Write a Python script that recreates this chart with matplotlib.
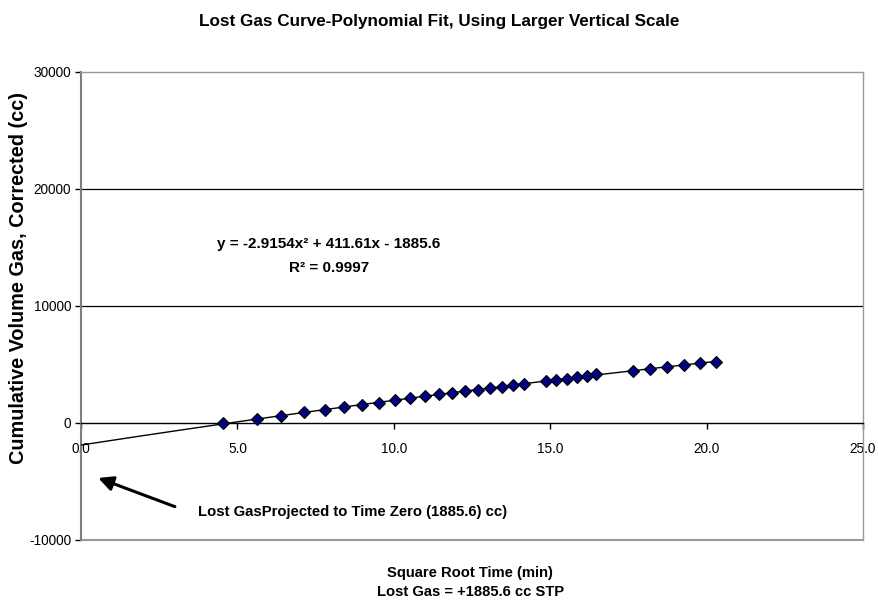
import matplotlib.pyplot as plt
import numpy as np

plt.rcParams['font.family'] = ['Liberation Sans', 'DejaVu Sans']

# square root of elapsed time (min^0.5) and corrected cumulative gas volume (cc)
sqrt_time = [4.55, 5.64, 6.38, 7.13, 7.80, 8.41, 8.98, 9.53, 10.04, 10.52,
             11.00, 11.45, 11.86, 12.28, 12.68, 13.08, 13.46, 13.82, 14.16, 14.86,
             15.19, 15.53, 15.85, 16.17, 16.46, 17.66, 18.19, 18.72, 19.28, 19.79,
             20.30]
cum_volume = [0, 350, 630, 900, 1110, 1350, 1550, 1750, 1940, 2140,
              2280, 2450, 2580, 2720, 2850, 2970, 3110, 3240, 3365, 3580,
              3705, 3790, 3910, 4030, 4150, 4450, 4630, 4820, 4980, 5130,
              5250]

# second order trend line, projected back to time zero
fit_coeffs = [-2.9154, 411.61, -1885.6]
r_squared = 0.9997
lost_gas = 1885.6

x_ticks = [0, 5, 10, 15, 20, 25]
y_ticks = [-10000, 0, 10000, 20000, 30000]

fig = plt.figure(figsize=(8.79, 6.07), dpi=100)
ax = fig.add_axes([0.0922, 0.1104, 0.8896, 0.771])

fit_x = np.linspace(0, sqrt_time[-1], 200)
ax.plot(fit_x, np.polyval(fit_coeffs, fit_x), color='black', lw=1, zorder=3)
ax.plot(sqrt_time, cum_volume, ls='none', marker='D', ms=6,
        mfc='#000080', mec='black', mew=0.8, zorder=4)

ax.set_xlim(0, 25)
ax.set_ylim(-10000, 30000)
ax.set_xticks(x_ticks)
ax.set_xticklabels([f'{t:.1f}' for t in x_ticks])
ax.set_yticks(y_ticks)
ax.set_yticklabels([str(t) for t in y_ticks])
ax.tick_params(axis='both', direction='out', length=4, width=1, labelsize=9.8)
ax.tick_params(axis='x', pad=10)
ax.tick_params(axis='y', pad=3)

for y in [10000, 20000]:
    ax.axhline(y, color='black', lw=0.9, zorder=1)

# x axis crosses at zero, frame drawn in grey
ax.spines['bottom'].set_position(('data', 0))
ax.spines['bottom'].set_color('black')
ax.spines['bottom'].set_linewidth(1)
ax.spines['left'].set_color('#7f7f7f')
ax.spines['left'].set_linewidth(1.5)
for side in ['top', 'right']:
    ax.spines[side].set_color('#9a9a9a')
    ax.spines[side].set_linewidth(1)
ax.axhline(-10000, color='#9a9a9a', lw=1.5, clip_on=False)

a, b, c = fit_coeffs
ax.text(7.93, 15330, f'y = {a}x² + {b}x - {abs(c)}', fontsize=11,
        fontweight='bold', ha='center', va='center')
ax.text(7.93, 13280, f'R² = {r_squared}', fontsize=11,
        fontweight='bold', ha='center', va='center')

ax.annotate('', xy=(0.55, -4700), xytext=(3.0, -7150),
            arrowprops=dict(arrowstyle='-|>', lw=2.2, color='black',
                            mutation_scale=22, shrinkA=0, shrinkB=0))
ax.text(3.75, -7650, f'Lost GasProjected to Time Zero ({lost_gas}) cc)',
        fontsize=10.7, fontweight='bold', ha='left', va='center')

fig.text(0.5, 0.964, 'Lost Gas Curve-Polynomial Fit, Using Larger Vertical Scale',
         fontsize=12.3, fontweight='bold', ha='center', va='center')
fig.text(0.535, 0.056, 'Square Root Time (min)', fontsize=10.6,
         fontweight='bold', ha='center', va='center')
fig.text(0.535, 0.025, f'Lost Gas = +{lost_gas} cc STP', fontsize=10.6,
         fontweight='bold', ha='center', va='center')
fig.text(0.021, 0.542, 'Cumulative Volume Gas, Corrected (cc)', fontsize=14.3,
         fontweight='bold', ha='center', va='center', rotation=90)

fig.savefig('out.png', dpi=100)
